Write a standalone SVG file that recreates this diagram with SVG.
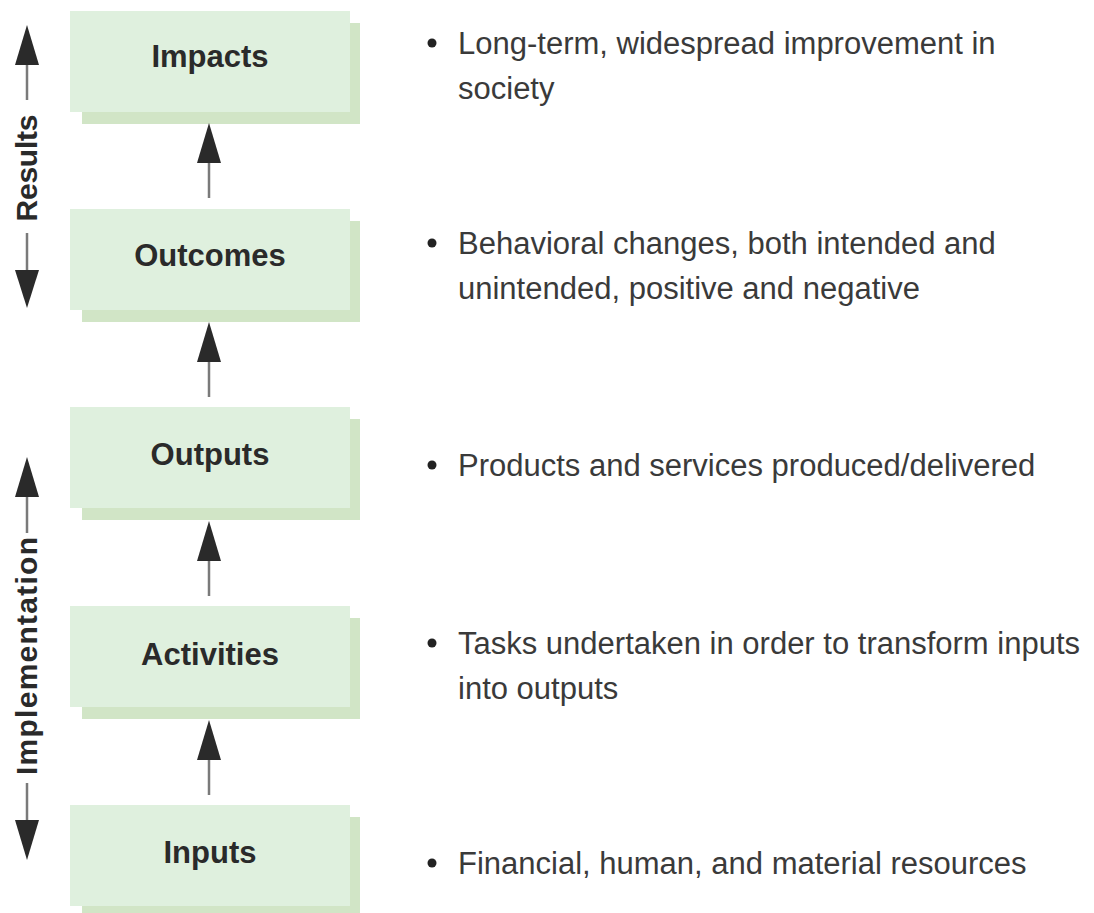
<svg xmlns="http://www.w3.org/2000/svg" width="1094" height="913" viewBox="0 0 1094 913">
  <defs>
    <style>
      .shadow { fill: #d1e5c6; }
      .front { fill: #dff0de; }
      .label { font-family: "Liberation Sans", Arial, sans-serif; font-weight: bold; font-size: 31px; fill: #2a2a2a; text-anchor: middle; }
      .side { font-family: "Liberation Sans", Arial, sans-serif; font-weight: bold; font-size: 30px; fill: #2a2a2a; text-anchor: middle; }
      .desc { font-family: "Liberation Sans", Arial, sans-serif; font-size: 31px; fill: #3a3a3a; }
      .bullet { fill: #222; }
      .stem { stroke: #7a7a7a; stroke-width: 2.5; fill: none; }
      .head { fill: #2a2a2a; }
    </style>
  </defs>
  <rect width="1094" height="913" fill="#ffffff"/>

  <!-- chain of stages, bottom to top -->
  <g id="impacts">
    <rect class="shadow" x="82" y="23" width="278" height="101"/>
    <rect class="front" x="70" y="11" width="280" height="101"/>
    <text class="label" x="210" y="67">Impacts</text>
  </g>
  <g id="outcomes">
    <rect class="shadow" x="82" y="221" width="278" height="101"/>
    <rect class="front" x="70" y="209" width="280" height="101"/>
    <text class="label" x="210" y="266">Outcomes</text>
  </g>
  <g id="outputs">
    <rect class="shadow" x="82" y="419" width="278" height="101"/>
    <rect class="front" x="70" y="407" width="280" height="101"/>
    <text class="label" x="210" y="465">Outputs</text>
  </g>
  <g id="activities">
    <rect class="shadow" x="82" y="618" width="278" height="101"/>
    <rect class="front" x="70" y="606" width="280" height="101"/>
    <text class="label" x="210" y="665">Activities</text>
  </g>
  <g id="inputs">
    <rect class="shadow" x="82" y="817" width="278" height="101"/>
    <rect class="front" x="70" y="805" width="280" height="101"/>
    <text class="label" x="210" y="863">Inputs</text>
  </g>

  <!-- upward connectors between stages -->
  <g id="connectors">
    <line class="stem" x1="209" y1="198" x2="209" y2="160"/>
    <polygon class="head" points="209,123 197,163 221,163"/>
    <line class="stem" x1="209" y1="397" x2="209" y2="359"/>
    <polygon class="head" points="209,322 197,362 221,362"/>
    <line class="stem" x1="209" y1="596" x2="209" y2="558"/>
    <polygon class="head" points="209,521 197,561 221,561"/>
    <line class="stem" x1="209" y1="795" x2="209" y2="757"/>
    <polygon class="head" points="209,720 197,760 221,760"/>
  </g>

  <!-- phase brackets on the left -->
  <g id="results-span">
    <line class="stem" x1="27" y1="100" x2="27" y2="62"/>
    <polygon class="head" points="27,25 15,65 39,65"/>
    <text class="side" transform="translate(37,168) rotate(-90)" textLength="107">Results</text>
    <line class="stem" x1="27" y1="233" x2="27" y2="273"/>
    <polygon class="head" points="27,308 15,270 39,270"/>
  </g>
  <g id="implementation-span">
    <line class="stem" x1="27" y1="533" x2="27" y2="494"/>
    <polygon class="head" points="27,457 15,497 39,497"/>
    <text class="side" transform="translate(37,656) rotate(-90)" textLength="238">Implementation</text>
    <line class="stem" x1="27" y1="783" x2="27" y2="823"/>
    <polygon class="head" points="27,860 15,820 39,820"/>
  </g>

  <!-- descriptions -->
  <g id="desc-impacts">
    <circle class="bullet" cx="432" cy="43" r="4.5"/>
    <text class="desc" x="458" y="54">Long-term, widespread improvement in</text>
    <text class="desc" x="458" y="99">society</text>
  </g>
  <g id="desc-outcomes">
    <circle class="bullet" cx="432" cy="243" r="4.5"/>
    <text class="desc" x="458" y="254">Behavioral changes, both intended and</text>
    <text class="desc" x="458" y="299">unintended, positive and negative</text>
  </g>
  <g id="desc-outputs">
    <circle class="bullet" cx="432" cy="465" r="4.5"/>
    <text class="desc" x="458" y="476">Products and services produced/delivered</text>
  </g>
  <g id="desc-activities">
    <circle class="bullet" cx="432" cy="643" r="4.5"/>
    <text class="desc" x="458" y="654">Tasks undertaken in order to transform inputs</text>
    <text class="desc" x="458" y="699">into outputs</text>
  </g>
  <g id="desc-inputs">
    <circle class="bullet" cx="432" cy="863" r="4.5"/>
    <text class="desc" x="458" y="874">Financial, human, and material resources</text>
  </g>
</svg>
